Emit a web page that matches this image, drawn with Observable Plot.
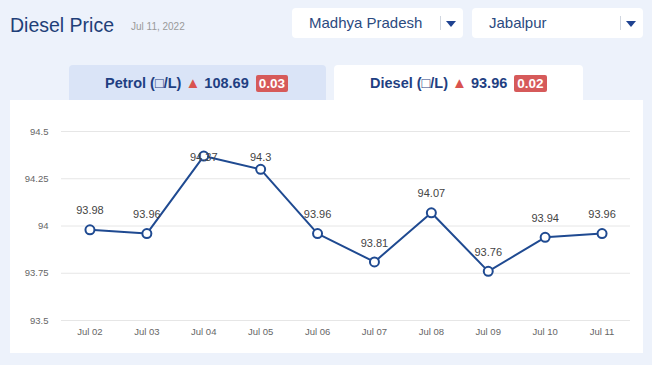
<!DOCTYPE html>
<html>
<head>
<meta charset="utf-8">
<script src="https://cdn.jsdelivr.net/npm/d3@7"></script>
<script src="https://cdn.jsdelivr.net/npm/@observablehq/plot@0.6"></script>
<style>
  html, body { margin: 0; padding: 0; }
  body { width: 652px; height: 365px; background: #edf2fb; font-family: "Liberation Sans", Arial, sans-serif; position: relative; overflow: hidden; }
  .abs { position: absolute; }
  #title { left: 10px; top: 14px; font-size: 19.5px; color: #1f3f78; }
  #date { left: 131px; top: 21px; font-size: 10px; color: #9a9a9a; }
  .dd { background: #fff; border-radius: 4px; height: 30px; top: 8px; width: 171px; }
  .dd .t { position: absolute; left: 17px; top: 6px; font-size: 15px; color: #2b4a80; }
  .dd .sep { position: absolute; right: 22px; top: 8px; width: 1px; height: 14px; background: #d0d6e0; }
  .dd .arr { position: absolute; right: 7px; top: 13px; width: 0; height: 0; border-left: 5px solid transparent; border-right: 5px solid transparent; border-top: 6px solid #1f4391; }
  .tab { top: 65px; height: 36px; border-radius: 4px 4px 0 0; font-weight: bold; font-size: 14.5px; color: #1f3f82; }
  .tab .c { position: absolute; top: 9px; white-space: nowrap; }
  .tri { color: #d9534f; font-size: 15px; margin: 0; }
  .badge { display: inline-block; background: #d65a5a; color: #fff; font-size: 13.5px; padding: 1px 3px; border-radius: 2px; margin-left: 3px; }
  #card { left: 10px; top: 100px; width: 633px; height: 253px; background: #fff; }
</style>
</head>
<body>
<div id="title" class="abs">Diesel Price</div>
<div id="date" class="abs">Jul 11, 2022</div>
<div class="abs dd" style="left:292px"><span class="t">Madhya Pradesh</span><span class="sep"></span><span class="arr"></span></div>
<div class="abs dd" style="left:472px"><span class="t">Jabalpur</span><span class="sep"></span><span class="arr"></span></div>
<div class="abs tab" style="left:69px;width:257px;background:#dae4f7"><span class="c" style="left:36px">Petrol (□/L) <span class="tri">▲</span> 108.69 <span class="badge">0.03</span></span></div>
<div class="abs tab" style="left:334px;width:249px;background:#fff"><span class="c" style="left:36px">Diesel (□/L) <span class="tri">▲</span> 93.96 <span class="badge">0.02</span></span></div>
<div id="card" class="abs"></div>
<script>
const dates = ["Jul 02","Jul 03","Jul 04","Jul 05","Jul 06","Jul 07","Jul 08","Jul 09","Jul 10","Jul 11"];
const prices = [93.98, 93.96, 94.37, 94.3, 93.96, 93.81, 94.07, 93.76, 93.94, 93.96];
const yTicks = [93.5, 93.75, 94, 94.25, 94.5];

const data = dates.map((d, i) => ({date: d, price: prices[i]}));
const labelTop = 94.362; // labels clamped inside plot area
const plot = Plot.plot({
  width: 633,
  height: 253,
  marginLeft: 51,
  marginRight: 13,
  marginTop: 31,
  marginBottom: 33,
  style: {fontFamily: "'Liberation Sans', Arial, sans-serif", background: "transparent"},
  x: {type: "point", domain: dates, padding: 0.5, round: false, label: null, tickSize: 0, tickPadding: 8},
  y: {domain: [93.5, 94.5], ticks: yTicks, tickFormat: d => String(d), label: null, tickSize: 0, tickPadding: 13},
  marks: [
    Plot.gridY(yTicks, {stroke: "#e6e6e6", strokeOpacity: 1, strokeWidth: 1}),
    Plot.axisX({tickSize: 0, tickPadding: 8, fontSize: 9.5, fill: "#666", label: null}),
    Plot.axisY({ticks: yTicks, tickSize: 0, tickPadding: 13, fontSize: 9.5, fill: "#666", label: null, tickFormat: d => String(d)}),
    Plot.line(data, {x: "date", y: "price", stroke: "#1f4a91", strokeWidth: 2}),
    Plot.dot(data, {x: "date", y: "price", r: 4.5, fill: "#fff", stroke: "#1f4a91", strokeWidth: 2}),
    Plot.text(data, {x: "date", y: d => Math.min(d.price + 0.1, labelTop), text: d => String(d.price), fontSize: 11, fill: "#444"})
  ]
});
document.getElementById("card").appendChild(plot);
</script>
</body>
</html>
